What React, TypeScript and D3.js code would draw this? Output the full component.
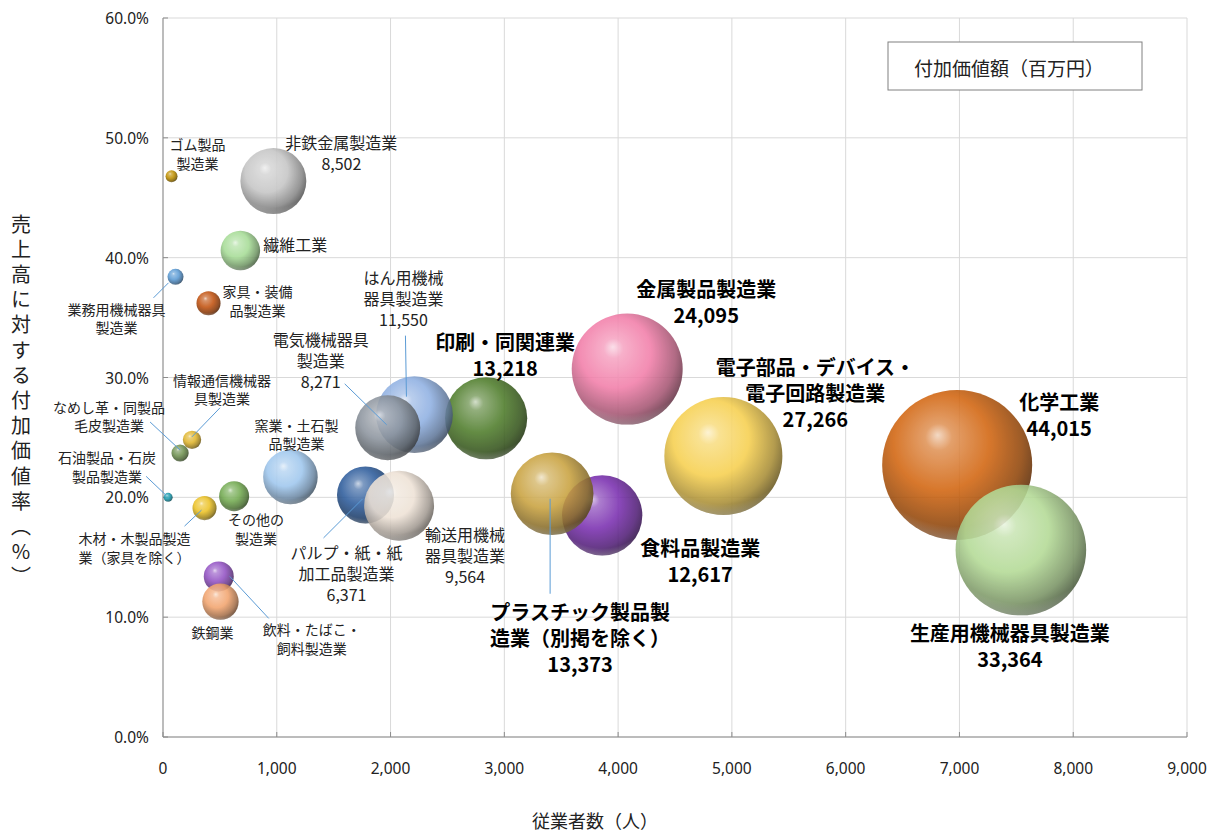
import { useEffect } from "react";
import * as d3 from "d3";

// 製造業中分類（従業者数・付加価値率・付加価値額）
const INDUSTRIES = [
  "食料品製造業",
  "飲料・たばこ・飼料製造業",
  "繊維工業",
  "木材・木製品製造業（家具を除く）",
  "家具・装備品製造業",
  "パルプ・紙・紙加工品製造業",
  "印刷・同関連業",
  "化学工業",
  "石油製品・石炭製品製造業",
  "プラスチック製品製造業（別掲を除く）",
  "ゴム製品製造業",
  "なめし革・同製品・毛皮製造業",
  "窯業・土石製品製造業",
  "鉄鋼業",
  "非鉄金属製造業",
  "金属製品製造業",
  "はん用機械器具製造業",
  "生産用機械器具製造業",
  "業務用機械器具製造業",
  "電子部品・デバイス・電子回路製造業",
  "電気機械器具製造業",
  "情報通信機械器具製造業",
  "輸送用機械器具製造業",
  "その他の製造業",
];

// 従業者数（人）
const EMPLOYEES = [
  3860, 490, 680, 365, 400, 1780, 2840, 6980, 45, 3420, 75, 150,
  1120, 505, 970, 4080, 2210, 7540, 110, 4925, 1975, 255, 2075, 625,
];

// 売上高に対する付加価値率（%）
const VALUE_ADDED_RATE = [
  18.5, 13.4, 40.6, 19.1, 36.2, 20.2, 26.6, 22.7, 20.0, 20.3, 46.8, 23.7,
  21.7, 11.3, 46.4, 30.7, 26.9, 15.6, 38.4, 23.45, 25.8, 24.8, 19.3, 20.1,
];

// 付加価値額（百万円）
const VALUE_ADDED = [
  12617, 1760, 3040, 1130, 1130, 6371, 13218, 44015, 160, 13373, 280, 580,
  5830, 2590, 8502, 24095, 11550, 33364, 500, 27266, 8271, 660, 9564, 1760,
];

// ラベル文字列（改行位置）と金額表示の有無
const LABEL_LINES = [
  ["食料品製造業"],
  ["飲料・たばこ・", "飼料製造業"],
  ["繊維工業"],
  ["木材・木製品製造", "業（家具を除く）"],
  ["家具・装備", "品製造業"],
  ["パルプ・紙・紙", "加工品製造業"],
  ["印刷・同関連業"],
  ["化学工業"],
  ["石油製品・石炭", "製品製造業"],
  ["プラスチック製品製", "造業（別掲を除く）"],
  ["ゴム製品", "製造業"],
  ["なめし革・同製品", "毛皮製造業"],
  ["窯業・土石製", "品製造業"],
  ["鉄鋼業"],
  ["非鉄金属製造業"],
  ["金属製品製造業"],
  ["はん用機械", "器具製造業"],
  ["生産用機械器具製造業"],
  ["業務用機械器具", "製造業"],
  ["電子部品・デバイス・", "電子回路製造業"],
  ["電気機械器具", "製造業"],
  ["情報通信機械器", "具製造業"],
  ["輸送用機械", "器具製造業"],
  ["その他の", "製造業"],
];
const SHOW_VALUE = [
  true, false, false, false, false, true, true, true, false, true, false, false,
  false, false, true, true, true, true, false, true, true, false, true, false,
];

const X_TICKS = [0, 1000, 2000, 3000, 4000, 5000, 6000, 7000, 8000, 9000];
const Y_TICKS = [0, 10, 20, 30, 40, 50, 60];

const X_TITLE = "従業者数（人）";
const Y_TITLE = "売上高に対する付加価値率（%）";
const LEGEND_TEXT = "付加価値額（百万円）";

// styles
const COLORS = [
  "#7a2fb0", "#9352c4", "#a6dc96", "#ecc225", "#c2520f", "#2d5c9c",
  "#4f7d2b", "#d2650f", "#1a9cb0", "#c9a23f", "#c09000", "#6f9150",
  "#9fc7ee", "#f2a46e", "#c6c6c6", "#f27ea9", "#8fb0e2", "#b3da95",
  "#5b9bd5", "#f7d04f", "#8c949e", "#e0b52c", "#eee2d6", "#72aa50",
];

type Layout = {
  dx: number;
  dy: number;
  size: "s" | "m" | "b";
  anchor?: "start" | "middle";
  leader?: [number, number, number, number];
};

// label offsets from the bubble centre (px)
const LABEL_LAYOUT: Layout[] = [
  { dx: 98, dy: 32, size: "b" },
  { dx: 93, dy: 53, size: "s", leader: [11, 0, 50, 42] },
  { dx: 23, dy: -6, size: "m", anchor: "start" },
  { dx: -70, dy: 30, size: "s", leader: [-20, 18, -3, 2] },
  { dx: 49, dy: -12, size: "s" },
  { dx: -19, dy: 57, size: "m", leader: [-42, 43, -3, 4] },
  { dx: 19, dy: -77, size: "b" },
  { dx: 102, dy: -64, size: "b" },
  { dx: -61, dy: -40, size: "s", leader: [-22, -21, -2, -2] },
  { dx: 28, dy: 117, size: "b", leader: [-2, 5, -2, 100] },
  { dx: 26, dy: -32, size: "s" },
  { dx: -71, dy: -46, size: "s", leader: [-30, -31, 0, -3] },
  { dx: 6, dy: -52, size: "s" },
  { dx: -8, dy: 30, size: "s" },
  { dx: 68, dy: -39, size: "m" },
  { dx: 79, dy: -81, size: "b" },
  { dx: -11, dy: -138, size: "m", leader: [-9, -79, -8, -18] },
  { dx: -11, dy: 82, size: "b" },
  { dx: -59, dy: 32, size: "s", leader: [-7, 6, -22, 21] },
  { dx: 92, dy: -90, size: "b" },
  { dx: -67, dy: -89, size: "m", leader: [-43, -44, -1, -3] },
  { dx: 30, dy: -60, size: "s", leader: [28, -32, 0, -3] },
  { dx: 66, dy: 28, size: "m" },
  { dx: 22, dy: 23, size: "s" },
];

const FONT_SIZE = { s: 14, m: 16, b: 20 };
const LINE_H = { s: 18.5, m: 21, b: 26 };

const W = 1210;
const H = 834;
const margin = { top: 18, right: 23, bottom: 97, left: 163 };
const JP = "'Noto Sans CJK JP', 'Noto Sans', sans-serif";
const NUM = "'Noto Sans', 'DejaVu Sans', sans-serif";

export default function App() {
  useEffect(() => {
    document.body.style.margin = "0";
  }, []);

  const x = d3.scaleLinear().domain([0, 9000]).range([margin.left, W - margin.right]);
  const y = d3.scaleLinear().domain([0, 60]).range([H - margin.bottom, margin.top]);
  const r = d3.scaleSqrt().domain([0, 44015]).range([0, 75]);
  const fmt = d3.format(",");
  const fmtPct = d3.format(".1f");

  const x0 = x(0);
  const x1 = x(9000);
  const y0 = y(0);
  const y1 = y(60);

  const white = (c: string, t: number) => d3.interpolateRgb(c, "#ffffff")(t);
  const black = (c: string, t: number) => d3.interpolateRgb(c, "#000000")(t);

  return (
    <svg width={W} height={H} style={{ display: "block", background: "#fff" }}>
      <defs>
        {COLORS.map((c, i) => (
          <radialGradient key={i} id={`ball${i}`} cx="0.42" cy="0.4" r="0.64" fx="0.37" fy="0.3">
            <stop offset="0" stopColor={white(c, 0.72)} />
            <stop offset="0.14" stopColor={white(c, 0.3)} />
            <stop offset="0.5" stopColor={c} />
            <stop offset="0.82" stopColor={black(c, 0.32)} />
            <stop offset="1" stopColor={black(c, 0.62)} />
          </radialGradient>
        ))}
        <radialGradient id="rim" cx="0.5" cy="0.22" r="0.82">
          <stop offset="0.84" stopColor="#fff" stopOpacity="0" />
          <stop offset="1" stopColor="#fff" stopOpacity="0.35" />
        </radialGradient>
      </defs>

      {/* grid */}
      {Y_TICKS.map((t) => (
        <line key={`gy${t}`} x1={x0} x2={x1} y1={y(t)} y2={y(t)} stroke="#d9d9d9" strokeWidth={1} />
      ))}
      {X_TICKS.map((t) => (
        <line key={`gx${t}`} x1={x(t)} x2={x(t)} y1={y0} y2={y1} stroke="#d9d9d9" strokeWidth={1} />
      ))}

      {/* axes */}
      <line x1={x0} x2={x0} y1={y0} y2={y1} stroke="#8c8c8c" />
      <line x1={x0} x2={x1} y1={y0} y2={y0} stroke="#8c8c8c" />
      {Y_TICKS.map((t) => (
        <line key={`ty${t}`} x1={x0} x2={x0 + 5} y1={y(t)} y2={y(t)} stroke="#8c8c8c" />
      ))}
      {X_TICKS.map((t) => (
        <line key={`tx${t}`} x1={x(t)} x2={x(t)} y1={y0} y2={y0 - 5} stroke="#8c8c8c" />
      ))}
      {Y_TICKS.map((t) => (
        <text
          key={`ly${t}`}
          x={x0 - 14}
          y={y(t)}
          textAnchor="end"
          dominantBaseline="central"
          fontFamily={NUM}
          fontSize={15.5}
          fill="#222"
        >
          {fmtPct(t)}%
        </text>
      ))}
      {X_TICKS.map((t) => (
        <text
          key={`lx${t}`}
          x={x(t)}
          y={y0 + 31}
          textAnchor="middle"
          dominantBaseline="central"
          fontFamily={NUM}
          fontSize={15.5}
          fill="#222"
        >
          {fmt(t)}
        </text>
      ))}

      {/* axis titles */}
      <text x={595} y={820} textAnchor="middle" dominantBaseline="central" fontFamily={JP} fontSize={18} fill="#222">
        {X_TITLE}
      </text>
      <text
        x={21}
        y={214}
        fontFamily={JP}
        fontSize={20}
        fill="#222"
        letterSpacing={5.2}
        style={{ writingMode: "vertical-rl", textOrientation: "upright" }}
      >
        {Y_TITLE}
      </text>

      {/* bubbles */}
      {INDUSTRIES.map((name, i) => {
        const cx = x(EMPLOYEES[i]);
        const cy = y(VALUE_ADDED_RATE[i]);
        const rr = r(VALUE_ADDED[i]);
        return (
          <g key={name} opacity={0.88}>
            <circle cx={cx} cy={cy} r={rr} fill={`url(#ball${i})`} />
            <circle cx={cx} cy={cy} r={rr} fill="url(#rim)" />
          </g>
        );
      })}

      {/* leader lines */}
      {INDUSTRIES.map((name, i) => {
        const l = LABEL_LAYOUT[i].leader;
        if (!l) return null;
        const cx = x(EMPLOYEES[i]);
        const cy = y(VALUE_ADDED_RATE[i]);
        return (
          <line
            key={`ld${name}`}
            x1={cx + l[0]}
            y1={cy + l[1]}
            x2={cx + l[2]}
            y2={cy + l[3]}
            stroke="#5b9bd5"
            strokeWidth={1}
          />
        );
      })}

      {/* labels */}
      {INDUSTRIES.map((name, i) => {
        const lay = LABEL_LAYOUT[i];
        const cx = x(EMPLOYEES[i]) + lay.dx;
        const cy = y(VALUE_ADDED_RATE[i]) + lay.dy;
        const lines = SHOW_VALUE[i] ? [...LABEL_LINES[i], fmt(VALUE_ADDED[i])] : LABEL_LINES[i];
        const bold = lay.size === "b";
        return (
          <text
            key={`lb${name}`}
            x={cx}
            y={cy}
            textAnchor={lay.anchor ?? "middle"}
            dominantBaseline="central"
            fontFamily={JP}
            fontSize={FONT_SIZE[lay.size]}
            fontWeight={bold ? 700 : 400}
            fill={bold ? "#000" : "#222"}
          >
            {lines.map((s, k) => (
              <tspan key={k} x={cx} dy={k === 0 ? 0 : LINE_H[lay.size]}>
                {s}
              </tspan>
            ))}
          </text>
        );
      })}

      {/* legend box */}
      <rect x={888} y={42} width={254} height={48} fill="#fff" stroke="#808080" strokeWidth={1} />
      <text x={1009} y={67} textAnchor="middle" dominantBaseline="central" fontFamily={JP} fontSize={19} fill="#222">
        {LEGEND_TEXT}
      </text>
    </svg>
  );
}
